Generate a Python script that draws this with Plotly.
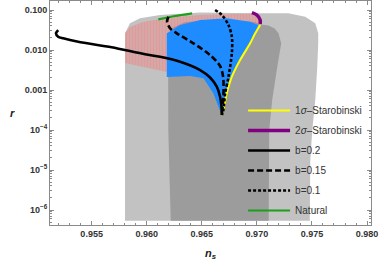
import plotly.graph_objects as go

# ---- data ----
# Planck-like contours
gray2_ns = [0.95803, 0.95803, 0.95848, 0.95939, 0.96121, 0.96485, 0.96985, 0.97285, 0.97439,
            0.97530, 0.97557, 0.97557, 0.97548, 0.97530, 0.97503, 0.97485, 0.97480]
gray2_r = [5.4e-7, 0.0261, 0.0465, 0.0620, 0.0750, 0.0866, 0.0827, 0.0827, 0.0680,
           0.0465, 0.0261, 0.0147, 0.00376, 0.000562, 1e-4, 1.78e-5, 5.4e-7]

gray1_ns = [0.96218, 0.96196, 0.96194, 0.96230, 0.96348, 0.96666, 0.96985, 0.97030, 0.97106,
            0.97161, 0.97196, 0.97221, 0.97185, 0.97139, 0.97112, 0.97107]
gray1_r = [5.4e-7, 1e-4, 0.0178, 0.0355, 0.0501, 0.0562, 0.0501, 0.0434, 0.0410,
           0.0345, 0.0261, 0.0147, 0.00376, 0.000562, 1e-4, 5.4e-7]

# model regions
red_ns = [0.95803, 0.95803, 0.95848, 0.95966, 0.96094, 0.96303, 0.96485, 0.96712, 0.96939, 0.96994,
          0.97030, 0.97000, 0.96939, 0.96727, 0.96485, 0.96303, 0.96182, 0.96182]
red_r = [0.00473, 0.0266, 0.0376, 0.0501, 0.0579, 0.0688, 0.0750, 0.0794, 0.0818, 0.0772,
         0.0501, 0.0422, 0.0510, 0.0620, 0.0562, 0.0422, 0.0261, 0.00282]

blue_ns = [0.96182, 0.96303, 0.96485, 0.96727, 0.96939, 0.97012, 0.96985, 0.96939, 0.96848,
           0.96773, 0.96727, 0.96696, 0.96682, 0.96651, 0.96605, 0.96515, 0.96394, 0.96182]
blue_r = [0.0261, 0.0422, 0.0562, 0.0620, 0.0510, 0.0422, 0.0261, 0.0147, 0.00562,
          0.00215, 0.000827, 0.000316, 0.000237, 0.000382, 0.000827, 0.00196, 0.00224, 0.00211]

# curves
b02_ns = [0.95196, 0.95176, 0.95196, 0.95242, 0.95378, 0.95682, 0.95985, 0.96121, 0.96303,
          0.96485, 0.96575, 0.96636, 0.96666, 0.96678, 0.96682]
b02_r = [0.0316, 0.0261, 0.0215, 0.0196, 0.0161, 0.0117, 0.00781, 0.00680, 0.00510,
         0.00316, 0.00205, 0.00121, 0.000680, 0.000398, 0.000237]

b015_ns = [0.96196, 0.96185, 0.96212, 0.96273, 0.96424, 0.96575, 0.96666, 0.96694, 0.96696, 0.96682]
b015_r = [0.0680, 0.0510, 0.0349, 0.0261, 0.0147, 0.00750, 0.00398, 0.00211, 0.000680, 0.000237]

b01_ns = [0.96621, 0.96682, 0.96742, 0.96773, 0.96773, 0.96742, 0.96712, 0.96696, 0.96682]
b01_r = [0.100, 0.0750, 0.0422, 0.0215, 0.00841, 0.00211, 0.000827, 0.000316, 0.000237]

staro1_ns = [0.97030, 0.96985, 0.96939, 0.96848, 0.96773, 0.96727, 0.96696, 0.96682]
staro1_r = [0.0422, 0.0261, 0.0147, 0.00562, 0.00215, 0.000827, 0.000316, 0.000237]

staro2_ns = [0.96955, 0.97000, 0.97030, 0.97030]
staro2_r = [0.0856, 0.0750, 0.0562, 0.0447]

natural_ns = [0.96105, 0.96257, 0.96412]
natural_r = [0.0585, 0.0708, 0.0827]

x_ticks = [0.955, 0.960, 0.965, 0.970, 0.975, 0.980]
x_ticktext = ["0.955", "0.960", "0.965", "0.970", "0.975", "0.980"]
y_ticks = [1e-6, 1e-5, 1e-4, 1e-3, 1e-2, 1e-1]
y_ticktext = ["10<sup>−6</sup>", "10<sup>−5</sup>", "10<sup>−4</sup>", "0.001", "0.010", "0.100"]

FONT = "Liberation Sans, Arial, sans-serif"

fig = go.Figure()

def region(xs, ys, color, **kw):
    fig.add_trace(go.Scatter(x=xs, y=ys, mode="lines", fill="toself", fillcolor=color,
                             line=dict(width=0, color=color), showlegend=False,
                             hoverinfo="skip", **kw))

region(gray2_ns, gray2_r, "#c2c2c2")
region(gray1_ns, gray1_r, "#9c9c9c")
region(red_ns, red_r, "rgba(0,0,0,0)",
       fillpattern=dict(shape="|", fgcolor="#ff7070", bgcolor="rgba(0,0,0,0)", size=3, solidity=0.75))
region(blue_ns, blue_r, "#1e8cff")

def curve(xs, ys, name, color, width, dash, rank):
    fig.add_trace(go.Scatter(x=xs, y=ys, mode="lines", name=name, legendrank=rank,
                             legendgroup=name,
                             line=dict(color=color, width=width, dash=dash, shape="spline",
                                       smoothing=0.8)))

curve(staro1_ns, staro1_r, "1<i>σ</i>–Starobinski", "#ffff00", 2, "solid", 1)
curve(staro2_ns, staro2_r, "2<i>σ</i>–Starobinski", "#800080", 3.5, "solid", 2)
curve(natural_ns, natural_r, "Natural", "#1aa01a", 2.2, "solid", 6)
curve(b02_ns, b02_r, "b=0.2", "black", 2.6, "solid", 3)
curve(b015_ns, b015_r, "b=0.15", "black", 2.6, "6px,3px", 4)
curve(b01_ns, b01_r, "b=0.1", "black", 2.6, "3px,2px", 5)

axis_common = dict(showline=True, linecolor="#8a8a8a", linewidth=1, mirror="ticks",
                   ticks="inside", ticklen=4, tickcolor="#8a8a8a", showgrid=False,
                   zeroline=False, automargin=False,
                   tickfont=dict(family=FONT, size=9, color="#333333"))

fig.update_xaxes(range=[0.95122, 0.98036], tickmode="array", tickvals=x_ticks,
                 ticktext=["<b>%s</b>" % t for t in x_ticktext],
                 minor=dict(ticks="inside", ticklen=2, dtick=0.001, tickcolor="#8a8a8a"),
                 **axis_common)
fig.update_yaxes(type="log", range=[-6.375, -0.775], tickmode="array", tickvals=y_ticks,
                 ticktext=["<b>%s</b>" % t for t in y_ticktext],
                 minor=dict(ticks="inside", ticklen=2, dtick="D1", tickcolor="#8a8a8a"),
                 **axis_common)

fig.update_layout(
    width=379, height=263,
    margin=dict(l=50, r=8, t=1, b=38),
    paper_bgcolor="white", plot_bgcolor="white",
    showlegend=True,
    hovermode=False,
    legend=dict(x=0.6015, y=0.576, xanchor="left", yanchor="top", bgcolor="rgba(0,0,0,0)",
                font=dict(family=FONT, size=10, color="#333333"), tracegroupgap=1,
                itemwidth=42),
    annotations=[
        dict(text="<b><i>r</i></b>", xref="paper", yref="paper", x=-0.13, y=0.5,
             showarrow=False, font=dict(family=FONT, size=11, color="#222")),
        dict(text="<b><i>n</i></b><sub><b><i>s</i></b></sub>", xref="paper", yref="paper",
             x=0.5, y=-0.128, yanchor="middle", showarrow=False,
             font=dict(family=FONT, size=11, color="#222")),
    ],
)

fig.write_html("out.html", config={"displayModeBar": False, "staticPlot": True},
               post_script="document.body.style.margin='0px';document.body.style.overflow='hidden';")
